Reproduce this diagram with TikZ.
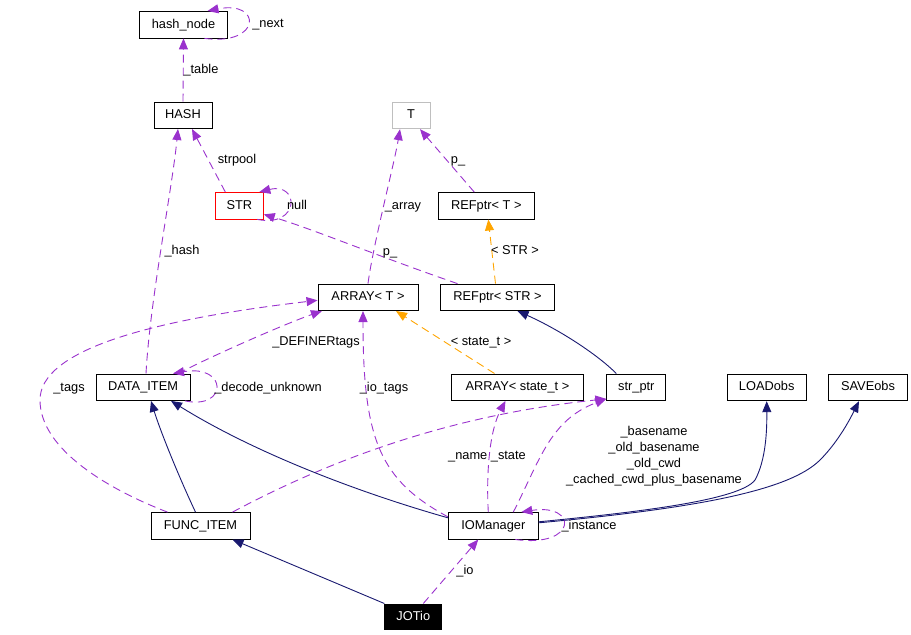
\documentclass[tikz,border=0pt]{standalone}
\usepackage{fontspec}
\setmainfont{Liberation Sans}
\usetikzlibrary{arrows.meta,calc}
\definecolor{depc}{HTML}{9A32CD}
\definecolor{inhc}{HTML}{191970}
\definecolor{tplc}{HTML}{FFA500}
\definecolor{grayb}{HTML}{BFBFBF}
\begin{document}
\begin{tikzpicture}[x=1pt,y=-1pt,
  box/.style={draw=black,line width=0.9pt,rectangle,inner sep=0pt,minimum height=26.5pt,
    font=\fontsize{12.8}{15}\selectfont,text height=9.3pt,text depth=2.7pt},
  lbl/.style={inner sep=0pt,font=\fontsize{12.8}{16}\selectfont,text height=9.3pt,text depth=2.7pt},
  mlbl/.style={inner sep=0pt,font=\fontsize{12.8}{16}\selectfont,align=center},
  tipa/.style={-{Triangle[length=11pt,width=9pt]}},
  depe/.style={draw=depc,line width=0.9pt,dash pattern=on 8pt off 5pt,tipa},
  tple/.style={draw=tplc,line width=0.9pt,dash pattern=on 8pt off 5pt,tipa},
  inhe/.style={draw=inhc,line width=0.9pt,tipa},
]
\useasboundingbox (0,0) rectangle (911,635);

% nodes
\node[box,minimum width=88pt] (hashnode) at (183.5,24.7) {hash\_node};
\node[box,minimum width=58pt] (HASH) at (183,115.3) {HASH};
\node[box,draw=grayb,minimum width=38pt] (T) at (411,115.5) {T};
\node[box,draw=red,minimum width=48pt] (STR) at (239.3,205.7) {STR};
\node[box,minimum width=96pt] (REFT) at (486.3,205.8) {REFptr< T >};
\node[box,minimum width=100pt] (ARRT) at (368,297.3) {ARRAY< T >};
\node[box,minimum width=114pt] (REFSTR) at (497.5,297.3) {REFptr< STR >};
\node[box,minimum width=94pt] (DATAITEM) at (143,387.2) {DATA\_ITEM};
\node[box,minimum width=132pt] (ARRS) at (517.5,387.2) {ARRAY< state\_t >};
\node[box,minimum width=59pt] (strptr) at (636.3,387.2) {str\_ptr};
\node[box,minimum width=79pt] (LOAD) at (766.7,387.5) {LOADobs};
\node[box,minimum width=79pt] (SAVE) at (868,387.5) {SAVEobs};
\node[box,minimum width=99pt] (FUNC) at (200.5,525.8) {FUNC\_ITEM};
\node[box,minimum width=90pt] (IOM) at (493.3,525.8) {IOManager};
\node[box,fill=black,text=white,minimum width=57pt,minimum height=25.5pt] (JOT) at (413.3,616.7) {JOTio};

% edges
\draw[depe] (HASH.north) -- (hashnode.south);
\draw[depe] ([xshift=21pt]hashnode.south) .. controls (262,46) and (262,0) .. ([xshift=24pt]hashnode.north);
\draw[depe] ([xshift=-14pt]STR.north) -- ([xshift=9pt]HASH.south);
\draw[depe] ([xshift=18pt]STR.south) .. controls (300,228) and (300,182) .. ([xshift=20pt]STR.north);
\draw[depe] (ARRT.north) .. controls (373,245) and (394,165) .. ([xshift=-11pt]T.south);
\draw[depe] ([xshift=-12pt]REFT.north) -- ([xshift=9pt]T.south);
\draw[depe] ([xshift=-40pt]REFSTR.north) .. controls (380,257) and (310,228) .. ([yshift=5pt]STR.south east);
\draw[tple] ([xshift=-2pt]REFSTR.north) -- ([xshift=2pt]REFT.south);
\draw[depe] ([xshift=3pt]DATAITEM.north) .. controls (150,300) and (172,190) .. ([xshift=-5pt]HASH.south);
\draw[depe] ([xshift=35pt]DATAITEM.north) .. controls (220,352) and (290,322) .. ([xshift=-46pt]ARRT.south);
\draw[depe] ([xshift=42pt]DATAITEM.south) .. controls (228,410) and (228,364) .. ([xshift=30pt]DATAITEM.north);
\draw[depe] ([xshift=-33pt]FUNC.north) .. controls (110,490) and (40,450) .. (40,400) .. controls (40,350) and (150,320) .. ([yshift=-3pt]ARRT.west);
\draw[depe] ([yshift=9pt]IOM.west) .. controls (380,480) and (363,440) .. ([xshift=-5pt]ARRT.south);
\draw[depe] ([xshift=-5pt]IOM.north) .. controls (486,470) and (490,430) .. ([xshift=-12pt]ARRS.south);
\draw[tple] ([xshift=-23pt]ARRS.north) -- ([xshift=28pt]ARRT.south);
\draw[inhe] ([xshift=-20pt]strptr.north) .. controls (598,355) and (560,330) .. ([xshift=20pt]REFSTR.south);
\draw[depe] ([xshift=32pt]FUNC.north) .. controls (330,460) and (450,415) .. ([yshift=2pt]strptr.south west);
\draw[depe] ([xshift=20pt]IOM.north) .. controls (540,460) and (550,420) .. ([yshift=2pt]strptr.south west);
\draw[inhe] ([xshift=-5pt]FUNC.north) .. controls (178,475) and (160,430) .. ([xshift=8pt]DATAITEM.south);
\draw[inhe] ([yshift=8pt]IOM.west) .. controls (350,490) and (250,450) .. ([xshift=28pt]DATAITEM.south);
\draw[inhe] (JOT.north west) -- ([xshift=32pt]FUNC.south);
\draw[depe] ([xshift=10pt]JOT.north) -- ([xshift=-15pt]IOM.south);
\draw[inhe] ([yshift=4pt]IOM.east) .. controls (640,512) and (740,500) .. (755,480) .. controls (766,460) and (767,430) .. (LOAD.south);
\draw[inhe] ([yshift=3pt]IOM.east) .. controls (700,508) and (790,490) .. (820,460) .. controls (840,440) and (852,415) .. ([xshift=-9pt]SAVE.south);
\draw[depe] ([xshift=22pt]IOM.south) .. controls (578,548) and (578,503) .. ([xshift=28pt]IOM.north);

% labels
\node[lbl] (Ltable) at (201,70) {\_table};
\node[lbl] (Lnext) at (268,24) {\_next};
\node[lbl] (Lstrpool) at (237,160) {strpool};
\node[lbl] (Lnull) at (297,206) {null};
\node[lbl] (Larray) at (403,206) {\_array};
\node[lbl] (Lp1) at (458,160.5) {p\_};
\node[lbl] (Lp2) at (390,252.5) {p\_};
\node[lbl] (Lstr) at (515,251.5) {< STR >};
\node[lbl] (Lhash) at (182,251) {\_hash};
\node[lbl] (Ldef) at (316,342) {\_DEFINERtags};
\node[lbl] (Ltags) at (69,388) {\_tags};
\node[lbl] (Ldecode) at (268,388) {\_decode\_unknown};
\node[lbl] (Liotags) at (384,388) {\_io\_tags};
\node[lbl] (Lstate) at (481,342) {< state\_t >};
\node[lbl] (Lname) at (487,456) {\_name \_state};
\node[mlbl] (Lbase) at (654,456) {\_basename\\\_old\_basename\\\_old\_cwd\\\_cached\_cwd\_plus\_basename};
\node[lbl] (Linst) at (589,526) {\_instance};
\node[lbl] (Lio) at (465,571) {\_io};
\end{tikzpicture}
\end{document}
